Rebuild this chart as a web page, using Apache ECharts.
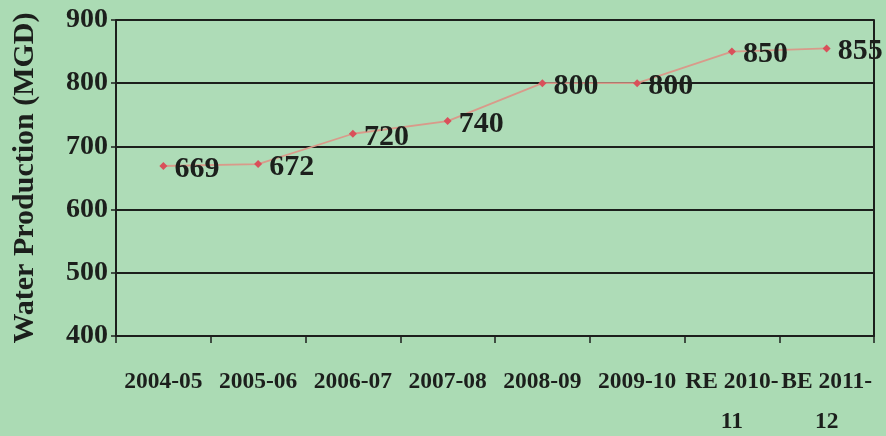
<!DOCTYPE html>
<html>
<head>
<meta charset="utf-8">
<script src="https://cdn.jsdelivr.net/npm/echarts@6/dist/echarts.min.js"></script>
<style>
  html, body { margin: 0; padding: 0; background: #abdbb4; }
  #chart { width: 886px; height: 436px; }
</style>
</head>
<body>
<div id="chart"></div>
<script>
// Annual water production, million gallons per day
var years = ['2004-05', '2005-06', '2006-07', '2007-08', '2008-09', '2009-10', 'RE 2010-\n11', 'BE 2011-\n12'];
var production = [669, 672, 720, 740, 800, 800, 850, 855];
var yTicks = [400, 500, 600, 700, 800, 900];

var serif = '"Liberation Serif", "Times New Roman", serif';
var ink = '#1c1f1c';

var chart = echarts.init(document.getElementById('chart'), null, { renderer: 'canvas' });
chart.setOption({
  backgroundColor: '#abdbb4',
  animation: false,
  grid: {
    left: 116, right: 12, top: 20, bottom: 100,
    outerBoundsMode: 'none', containLabel: false,
    show: true, borderWidth: 0, backgroundColor: '#aedcb7'
  },
  xAxis: {
    type: 'category',
    data: years,
    boundaryGap: true,
    axisLine: { show: true, lineStyle: { color: ink, width: 2 } },
    axisTick: { show: true, length: 7, lineStyle: { color: ink, width: 1.5 } },
    axisLabel: {
      color: ink, fontFamily: serif, fontWeight: 'bold', fontSize: 23.5,
      margin: 26, lineHeight: 40, interval: 0
    }
  },
  yAxis: [{
    type: 'value',
    min: yTicks[0],
    max: yTicks[yTicks.length - 1],
    interval: 100,
    name: 'Water Production (MGD)',
    nameLocation: 'middle',
    nameGap: 76,
    nameTextStyle: { color: ink, fontFamily: serif, fontWeight: 'bold', fontSize: 30 },
    axisLine: { show: true, lineStyle: { color: ink, width: 2 } },
    axisTick: { show: true, length: 5, lineStyle: { color: ink, width: 1.5 } },
    axisLabel: { color: ink, fontFamily: serif, fontWeight: 'bold', fontSize: 28, margin: 8 },
    splitLine: { show: true, lineStyle: { color: ink, width: 1.8 } }
  }, {
    // right-hand frame edge of the plot area
    type: 'value',
    position: 'right',
    min: yTicks[0],
    max: yTicks[yTicks.length - 1],
    interval: 100,
    axisLine: { show: true, lineStyle: { color: ink, width: 2 } },
    axisTick: { show: false },
    axisLabel: { show: false },
    splitLine: { show: false }
  }],
  series: [{
    type: 'line',
    data: production,
    symbol: 'diamond',
    symbolSize: 8,
    itemStyle: { color: '#d9505a' },
    lineStyle: { color: '#d99a8a', width: 1.8 },
    label: {
      show: true,
      position: 'right',
      distance: 7,
      color: ink,
      fontFamily: serif,
      fontWeight: 'bold',
      fontSize: 30,
      offset: [0, 3]
    }
  }]
});
</script>
</body>
</html>
